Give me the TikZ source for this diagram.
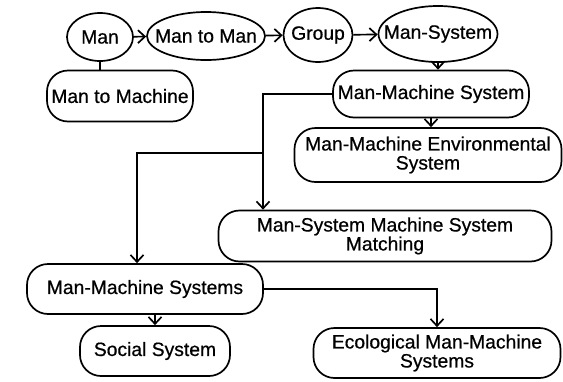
\documentclass[tikz,border=0pt]{standalone}
\usepackage{fontspec}
\setmainfont{Liberation Sans}[FakeBold=0.6]
\usetikzlibrary{shapes.geometric,arrows.meta}
\begin{document}
\begin{tikzpicture}[x=1pt,y=-1pt,
  every node/.style={font=\fontsize{19.3}{19}\selectfont, inner sep=0pt, align=center},
  oval/.style={draw, ellipse, line width=1.7pt},
  pill/.style={draw, rectangle, rounded corners=21pt, line width=1.7pt},
  conn/.style={line width=1.7pt},
  arr/.style={conn, -{Straight Barb[length=7pt,width=13pt,line width=1.7pt]}}]
\useasboundingbox[fill=white] (0,0) rectangle (563,381);
\node[oval, minimum width=66pt, minimum height=48pt] (man) at (100,37) {\makebox[0pt]{Man}};
\node[oval, minimum width=118pt, minimum height=48pt] (mtm) at (206,36) {\makebox[0pt]{Man to Man}};
\node[oval, minimum width=69pt, minimum height=54pt] (group) at (318,35) {\makebox[0pt]{Group}};
\node[oval, minimum width=119pt, minimum height=56pt] (msys) at (438,34) {\makebox[0pt]{Man-System}};
\node[pill, minimum width=146pt, minimum height=51pt] (mtmach) at (120,96) {Man to Machine};
\node[pill, minimum width=196pt, minimum height=47pt] (mms) at (431,94) {Man-Machine System};
\node[pill, minimum width=267pt, minimum height=54pt] (env) at (428,155) {Man-Machine Environmental\\System};
\node[pill, minimum width=333pt, minimum height=51pt] (match) at (385,236) {Man-System Machine System\\Matching};
\node[pill, minimum width=236pt, minimum height=50pt] (mmss) at (145,289) {Man-Machine Systems};
\node[pill, minimum width=150pt, minimum height=50pt] (social) at (155,351) {Social System};
\node[pill, minimum width=247pt, minimum height=50pt] (eco) at (437,353) {Ecological Man-Machine\\Systems};
\coordinate (bend) at (263,153);
\coordinate (bend2) at (137,153);
\draw[arr] (man) -- (mtm);
\draw[arr] (mtm) -- (group);
\draw[arr] (group) -- (msys);
\draw[conn] (man.south) -- (man.south |- mtmach.north);
\draw[arr] (msys) -- (msys |- mms.north);
\draw[arr] (mms) -- (mms |- env.north);
\draw[arr] (mms.west) -| (bend |- match.north);
\draw[arr] (bend) -- (bend2) -- (bend2 |- mmss.north);
\draw[arr] (social.north |- mmss.south) -- (social.north);
\draw[arr] (mmss.east) -| (eco.north);
\end{tikzpicture}
\end{document}
